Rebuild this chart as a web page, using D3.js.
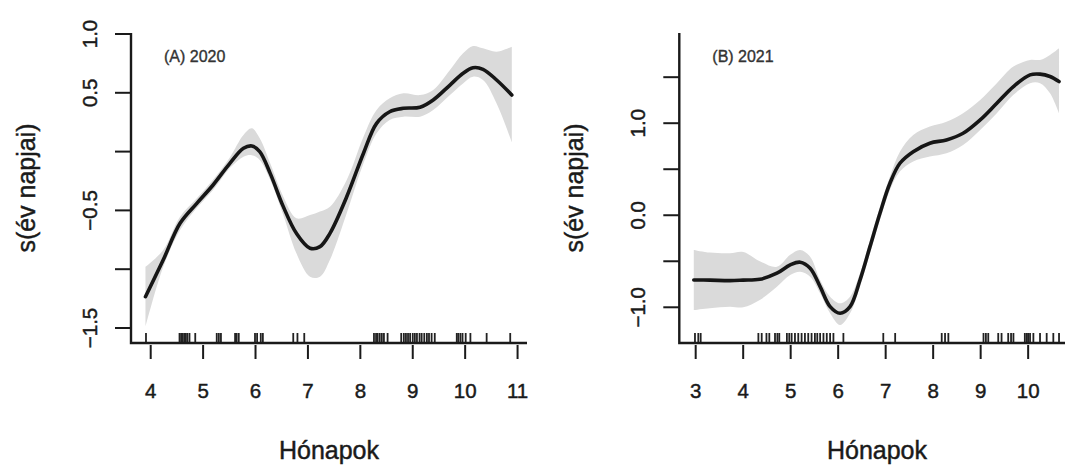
<!DOCTYPE html>
<html>
<head>
<meta charset="utf-8">
<script src="https://cdn.jsdelivr.net/npm/d3@7"></script>
<style>
  html, body { margin: 0; padding: 0; background: #fff; }
  svg { display: block; font-family: "Liberation Sans", Arial, sans-serif; }
  .lbl { stroke: #1a1a1a; stroke-width: 0.45px; paint-order: stroke; }
</style>
</head>
<body>
<svg id="chart" width="1065" height="466"></svg>
<script>
// ---------------- DATA ----------------
// Panel A (2020)
const panelATitle = "(A) 2020";
const monthsA = [3.90, 4.24, 4.56, 4.88, 5.19, 5.51, 5.77, 5.93, 6.08, 6.28, 6.53, 6.78, 7.04, 7.23, 7.42, 7.74, 8.06, 8.31, 8.56, 8.82, 9.14, 9.39, 9.71, 9.96, 10.15, 10.34, 10.60, 10.89];
const fitA    = [-1.234, -0.92, -0.61, -0.44, -0.284, -0.10, 0.028, 0.048, 0.0, -0.185, -0.468, -0.695, -0.822, -0.808, -0.695, -0.384, -0.014, 0.24, 0.339, 0.368, 0.377, 0.439, 0.566, 0.666, 0.713, 0.70, 0.609, 0.481];
const upperA  = [-0.98, -0.837, -0.553, -0.397, -0.24, -0.05, 0.141, 0.198, 0.113, -0.10, -0.384, -0.567, -0.54, -0.51, -0.469, -0.241, 0.127, 0.354, 0.453, 0.496, 0.481, 0.524, 0.694, 0.836, 0.898, 0.878, 0.85, 0.892];
const lowerA  = [-1.49, -0.98, -0.667, -0.48, -0.327, -0.14, -0.043, -0.03, -0.071, -0.24, -0.54, -0.865, -1.064, -1.064, -0.92, -0.525, -0.10, 0.156, 0.269, 0.297, 0.297, 0.354, 0.481, 0.58, 0.637, 0.609, 0.41, 0.08];
const rugA    = [3.91, 4.55, 4.58, 4.61, 4.64, 4.67, 4.70, 4.74, 4.85, 5.26, 5.30, 5.34, 5.61, 5.64, 5.68, 5.99, 6.03, 6.10, 6.14, 6.72, 6.80, 6.93, 8.26, 8.30, 8.33, 8.37, 8.41, 8.45, 8.52, 8.78, 8.83, 8.87, 8.91, 8.95, 9.00, 9.04, 9.08, 9.13, 9.17, 9.22, 9.27, 9.31, 9.36, 9.42, 9.84, 9.87, 9.91, 9.95, 10.01, 10.10, 10.41, 10.86];
const xTicksA = [4, 5, 6, 7, 8, 9, 10, 11];
const yTicksA = [1.0, 0.5, 0.0, -0.5, -1.0, -1.5];
const yTickLabelsA = ["1.0", "0.5", "", "\u22120.5", "", "\u22121.5"];

// Panel B (2021)
const panelBTitle = "(B) 2021";
const monthsB = [2.96, 3.30, 3.72, 4.00, 4.35, 4.71, 4.99, 5.20, 5.41, 5.62, 5.83, 6.04, 6.25, 6.46, 6.67, 6.88, 7.09, 7.30, 7.58, 7.93, 8.28, 8.63, 8.99, 9.34, 9.69, 10.04, 10.25, 10.46, 10.65];
const fitB    = [-0.703, -0.705, -0.71, -0.705, -0.696, -0.63, -0.54, -0.51, -0.576, -0.776, -0.993, -1.065, -0.993, -0.703, -0.341, 0.022, 0.348, 0.565, 0.691, 0.783, 0.818, 0.891, 1.036, 1.217, 1.398, 1.525, 1.533, 1.507, 1.452];
const upperB  = [-0.377, -0.406, -0.413, -0.40, -0.50, -0.56, -0.43, -0.377, -0.45, -0.703, -0.885, -0.957, -0.885, -0.63, -0.268, 0.094, 0.42, 0.691, 0.873, 0.963, 1.017, 1.109, 1.253, 1.435, 1.615, 1.688, 1.688, 1.742, 1.815];
const lowerB  = [-1.03, -1.01, -0.993, -1.0, -0.92, -0.776, -0.65, -0.613, -0.667, -0.848, -1.065, -1.192, -1.065, -0.776, -0.413, -0.051, 0.275, 0.474, 0.583, 0.637, 0.674, 0.764, 0.927, 1.109, 1.308, 1.435, 1.435, 1.326, 1.109];
const rugB    = [2.985, 3.055, 3.105, 4.32, 4.39, 4.49, 4.55, 4.67, 4.72, 4.76, 4.92, 4.97, 5.02, 5.09, 5.16, 5.23, 5.30, 5.37, 5.44, 5.51, 5.56, 5.62, 5.69, 5.76, 5.83, 5.90, 6.11, 6.95, 7.20, 8.18, 8.25, 8.32, 9.06, 9.11, 9.16, 9.37, 9.44, 9.58, 9.64, 9.69, 9.93, 9.97, 10.00, 10.04, 10.11, 10.25, 10.39, 10.53, 10.65];
const xTicksB = [3, 4, 5, 6, 7, 8, 9, 10];
const yTicksB = [1.5, 1.0, 0.5, 0.0, -0.5, -1.0];
const yTickLabelsB = ["", "1.0", "", "0.0", "", "\u22121.0"];

const xTitle = "Hónapok";
const yTitle = "s(év napjai)";

// ---------------- LAYOUT ----------------
const svg = d3.select("#chart");
const plotTop = 33, plotBottom = 343;

function drawPanel(cfg) {
  const x = d3.scaleLinear().domain(cfg.xDomain).range([cfg.left, cfg.right]);
  const y = d3.scaleLinear().domain(cfg.yDomain).range([plotBottom, plotTop]);
  const g = svg.append("g");

  const bandData = cfg.months.map((m, i) => ({ m, lo: cfg.lower[i], hi: cfg.upper[i], f: cfg.fit[i] }));

  // confidence band
  g.append("path")
    .datum(bandData)
    .attr("fill", "#dadada")
    .attr("stroke", "none")
    .attr("d", d3.area()
      .x(d => x(d.m)).y0(d => y(d.lo)).y1(d => y(d.hi))
      .curve(d3.curveCatmullRom.alpha(0.5)));

  // fitted smooth
  g.append("path")
    .datum(bandData)
    .attr("fill", "none")
    .attr("stroke", "#161616")
    .attr("stroke-width", 3.6)
    .attr("stroke-linejoin", "round")
    .attr("stroke-linecap", "round")
    .attr("d", d3.line()
      .x(d => x(d.m)).y(d => y(d.f))
      .curve(d3.curveCatmullRom.alpha(0.5)));

  // rug
  g.selectAll("line.rug").data(cfg.rug).enter().append("line")
    .attr("class", "rug")
    .attr("x1", d => x(d)).attr("x2", d => x(d))
    .attr("y1", plotBottom - 10).attr("y2", plotBottom)
    .attr("stroke", "#222").attr("stroke-width", 1.8);

  // L-shaped box
  g.append("path")
    .attr("d", `M${cfg.left},${plotTop}V${plotBottom}H${cfg.right}`)
    .attr("fill", "none").attr("stroke", "#1a1a1a").attr("stroke-width", 2.4);

  // x ticks
  const xt = g.append("g");
  cfg.xTicks.forEach(t => {
    xt.append("line")
      .attr("x1", x(t)).attr("x2", x(t))
      .attr("y1", plotBottom + 2).attr("y2", plotBottom + 16)
      .attr("stroke", "#1a1a1a").attr("stroke-width", 2);
    xt.append("text")
      .attr("class", "lbl")
      .attr("x", x(t)).attr("y", 398)
      .attr("text-anchor", "middle")
      .attr("font-size", 20.5).attr("fill", "#1a1a1a")
      .text(String(t));
  });

  // y ticks
  const yt = g.append("g");
  cfg.yTicks.forEach((t, i) => {
    yt.append("line")
      .attr("x1", cfg.left - 16).attr("x2", cfg.left)
      .attr("y1", y(t)).attr("y2", y(t))
      .attr("stroke", "#1a1a1a").attr("stroke-width", 2);
    if (cfg.yLabels[i]) {
      yt.append("text")
        .attr("class", "lbl")
        .attr("transform", `translate(${cfg.left - 34},${y(t)}) rotate(-90)`)
        .attr("text-anchor", "middle")
        .attr("font-size", 20.5).attr("fill", "#1a1a1a")
        .text(cfg.yLabels[i]);
    }
  });

  // panel label
  g.append("text")
    .attr("x", cfg.left + 33).attr("y", 62)
    .attr("font-size", 16).attr("fill", "#333")
    .attr("stroke", "#333").attr("stroke-width", 0.35)
    .text(cfg.title);

  // axis titles
  g.append("text")
    .attr("class", "lbl")
    .attr("x", (cfg.left + cfg.right) / 2).attr("y", 459)
    .attr("text-anchor", "middle")
    .attr("font-size", 25).attr("fill", "#1a1a1a")
    .text(xTitle);
  g.append("text")
    .attr("class", "lbl")
    .attr("transform", `translate(${cfg.left - 96},${(plotTop + plotBottom) / 2}) rotate(-90)`)
    .attr("text-anchor", "middle")
    .attr("font-size", 25).attr("fill", "#1a1a1a")
    .text(yTitle);
}

drawPanel({
  left: 131, right: 527,
  xDomain: [3.624, 11.18], yDomain: [-1.6276, 1.0085],
  months: monthsA, fit: fitA, upper: upperA, lower: lowerA, rug: rugA,
  xTicks: xTicksA, yTicks: yTicksA, yLabels: yTickLabelsA, title: panelATitle
});
drawPanel({
  left: 679.3, right: 1074.7,
  xDomain: [2.655, 10.98], yDomain: [-1.388, 1.98],
  months: monthsB, fit: fitB, upper: upperB, lower: lowerB, rug: rugB,
  xTicks: xTicksB, yTicks: yTicksB, yLabels: yTickLabelsB, title: panelBTitle
});
</script>
</body>
</html>
